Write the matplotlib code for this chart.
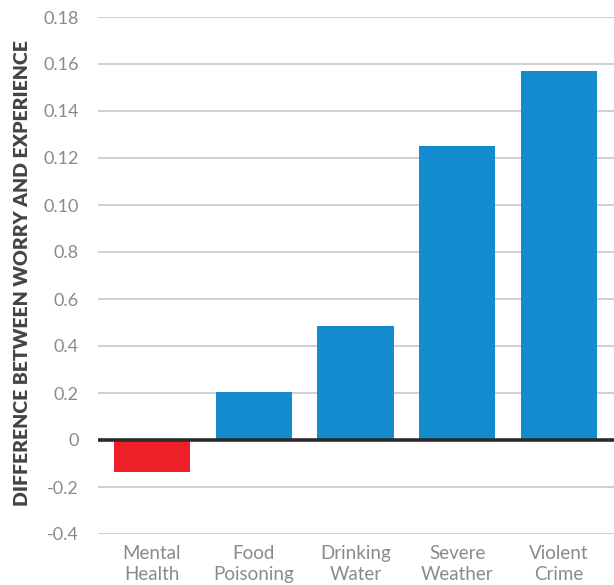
import matplotlib
matplotlib.use("Agg")
import matplotlib.pyplot as plt

categories = ["Mental\nHealth", "Food\nPoisoning", "Drinking\nWater", "Severe\nWeather", "Violent\nCrime"]
values = [-0.0136, 0.0205, 0.0485, 0.1252, 0.157]
tick_values = [-0.04, -0.02, 0.0, 0.02, 0.04, 0.06, 0.08, 0.10, 0.12, 0.14, 0.16, 0.18]
tick_labels = ["-0.4", "-0.2", "0", "0.2", "0.4", "0.6", "0.8", "0.10", "0.12", "0.14", "0.16", "0.18"]

blue = "#138bce"
red = "#ee2027"
colors = [red if v < 0 else blue for v in values]

plt.rcParams['font.family'] = ['Lato', 'DejaVu Sans']
fig = plt.figure(figsize=(6.14, 5.85), dpi=100)
ax = fig.add_axes([98/614, 1 - 534/585, (614-98)/614, (534-17)/585])

x = list(range(len(categories)))
ax.bar(x, values, width=0.75, color=colors, zorder=2)
ax.set_xlim(-0.53, 4.54)
ax.set_ylim(-0.04, 0.18)
ax.set_yticks(tick_values)
ax.set_yticklabels(tick_labels)
ax.yaxis.grid(True, color="#c4c4c4", linewidth=1.1, zorder=0)
ax.axhline(0, color="#2b2b2b", linewidth=2.6, zorder=3)
ax.set_xticks(x)
ax.set_xticklabels(categories, linespacing=1.3)
for s in ax.spines.values():
    s.set_visible(False)
ax.tick_params(axis='both', length=0, colors="#8a8a8a")
ax.tick_params(axis='y', pad=14, labelsize=13)
ax.tick_params(axis='x', pad=8, labelsize=13.5)
ax.set_ylabel("DIFFERENCE BETWEEN WORRY AND EXPERIENCE", fontsize=14, fontweight='heavy',
              color="#444444")
ax.yaxis.set_label_coords(-0.13, 0.505)

fig.savefig("out.png", dpi=100)
